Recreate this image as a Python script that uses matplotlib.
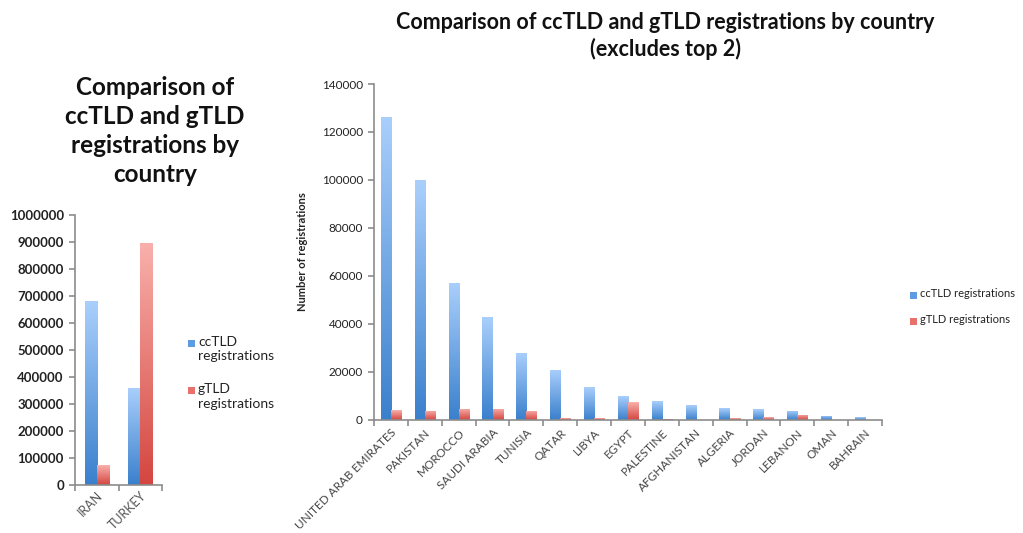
import numpy as np
import matplotlib.pyplot as plt
from matplotlib.colors import LinearSegmentedColormap
from matplotlib.patches import Rectangle

plt.rcParams['font.family'] = ['Lato', 'DejaVu Sans']

# top two countries
top_countries = ['IRAN', 'TURKEY']
top_cctld = [680000, 360000]
top_gtld = [73000, 895000]

# remaining countries
countries = ['UNITED ARAB EMIRATES', 'PAKISTAN', 'MOROCCO', 'SAUDI ARABIA', 'TUNISIA',
             'QATAR', 'LIBYA', 'EGYPT', 'PALESTINE', 'AFGHANISTAN', 'ALGERIA',
             'JORDAN', 'LEBANON', 'OMAN', 'BAHRAIN']
cctld = [126300, 100000, 57200, 42900, 28000, 20900, 13700, 9900, 7800, 6100,
         5000, 4450, 3900, 1700, 1100]
gtld = [4000, 3900, 4600, 4600, 3900, 700, 700, 7400, 600, 0, 800, 1250, 2200, 0, 0]

blue_cmap = LinearSegmentedColormap.from_list('b', ['#3a80cc', '#aacffc'])
red_cmap = LinearSegmentedColormap.from_list('r', ['#d4463f', '#f9b0ac'])
blue_key = '#5d9be2'
red_key = '#ea716b'
axis_grey = '#8c8c8c'
text_col = '#222222'


def gradient_bars(ax, x, heights, width, cmap):
    bars = ax.bar(x, heights, width, color='none', edgecolor='none')
    grad = np.linspace(0, 1, 256).reshape(-1, 1)
    for b in bars:
        h = b.get_height()
        if h <= 0:
            continue
        x0 = b.get_x()
        im = ax.imshow(grad, cmap=cmap, origin='lower', aspect='auto',
                       extent=[x0, x0 + b.get_width(), 0, h], zorder=2)
        im.set_clip_path(b)
    return bars


def style_axes(ax, n, ymax, step, ysize, bold_y=False, xpad=5):
    ax.set_xlim(0, n)
    ax.set_ylim(0, ymax)
    for s in ['top', 'right']:
        ax.spines[s].set_visible(False)
    for s in ['left', 'bottom']:
        ax.spines[s].set_color(axis_grey)
        ax.spines[s].set_linewidth(1.2)
    ax.set_yticks(np.arange(0, ymax + 1, step))
    ax.set_yticklabels([str(int(v)) for v in np.arange(0, ymax + 1, step)],
                       fontsize=ysize, color=text_col,
                       fontweight='bold' if bold_y else 'normal')
    ax.tick_params(axis='y', direction='out', length=4, color=axis_grey, width=1.2, pad=4)
    ax.set_xticks(np.arange(n) + 0.5)
    ax.set_xticks(np.arange(n + 1), minor=True)
    ax.tick_params(axis='x', which='major', length=0, pad=xpad)
    ax.tick_params(axis='x', which='minor', direction='out', length=4,
                   color=axis_grey, width=1.2)


def key(x, y, color, label, size):
    # legend square plus its label, positions in pixels from top-left
    fig.add_artist(Rectangle((x / W, 1 - (y + 3.5) / H), 7 / W, 7 / H,
                             transform=fig.transFigure, facecolor=color, edgecolor='none'))
    fig.text((x + 10) / W, 1 - (y - 7) / H, label, ha='left', va='top',
             fontsize=size, color=text_col, linespacing=1.25)


fig = plt.figure(figsize=(10.23, 5.33), dpi=100)
W, H = 1023, 533

# left chart
ax1 = fig.add_axes([75 / W, (H - 485) / H, 87 / W, 270 / H])
xl = np.arange(len(top_countries)) + 0.5
gradient_bars(ax1, xl - 0.138, top_cctld, 0.276, blue_cmap)
gradient_bars(ax1, xl + 0.138, top_gtld, 0.276, red_cmap)
style_axes(ax1, 2, 1000000, 100000, 9.5, bold_y=True, xpad=3)
ax1.set_xticklabels(top_countries, rotation=45, ha='right', rotation_mode='anchor',
                    fontsize=9, color='#555555')
fig.text(155 / W, 1 - 131 / H, 'Comparison of\nccTLD and gTLD\nregistrations by\ncountry',
         ha='center', va='center', fontsize=17.5, fontweight='bold',
         linespacing=1.3, color='#111111')
key(188, 343, blue_key, 'ccTLD\nregistrations', 10)
key(188, 390, red_key, 'gTLD\nregistrations', 10)

# right chart
ax2 = fig.add_axes([374 / W, (H - 420) / H, 508 / W, 336 / H])
xr = np.arange(len(countries)) + 0.5
gradient_bars(ax2, xr - 0.15, cctld, 0.3, blue_cmap)
gradient_bars(ax2, xr + 0.15, gtld, 0.3, red_cmap)
style_axes(ax2, len(countries), 140000, 20000, 8.5)
ax2.set_xticklabels(countries, rotation=45, ha='right', rotation_mode='anchor',
                    fontsize=8.5, color='#444444')
ax2.set_ylabel('Number of registrations', fontsize=8, fontweight='bold',
               color=text_col, labelpad=10)
fig.text(665 / W, 1 - 36 / H, 'Comparison of ccTLD and gTLD registrations by country\n(excludes top 2)',
         ha='center', va='center', fontsize=15.5, fontweight='bold',
         linespacing=1.3, color='#111111')
key(910, 295, blue_key, 'ccTLD registrations', 8)
key(910, 321, red_key, 'gTLD registrations', 8)

fig.savefig('out.png', dpi=100)
